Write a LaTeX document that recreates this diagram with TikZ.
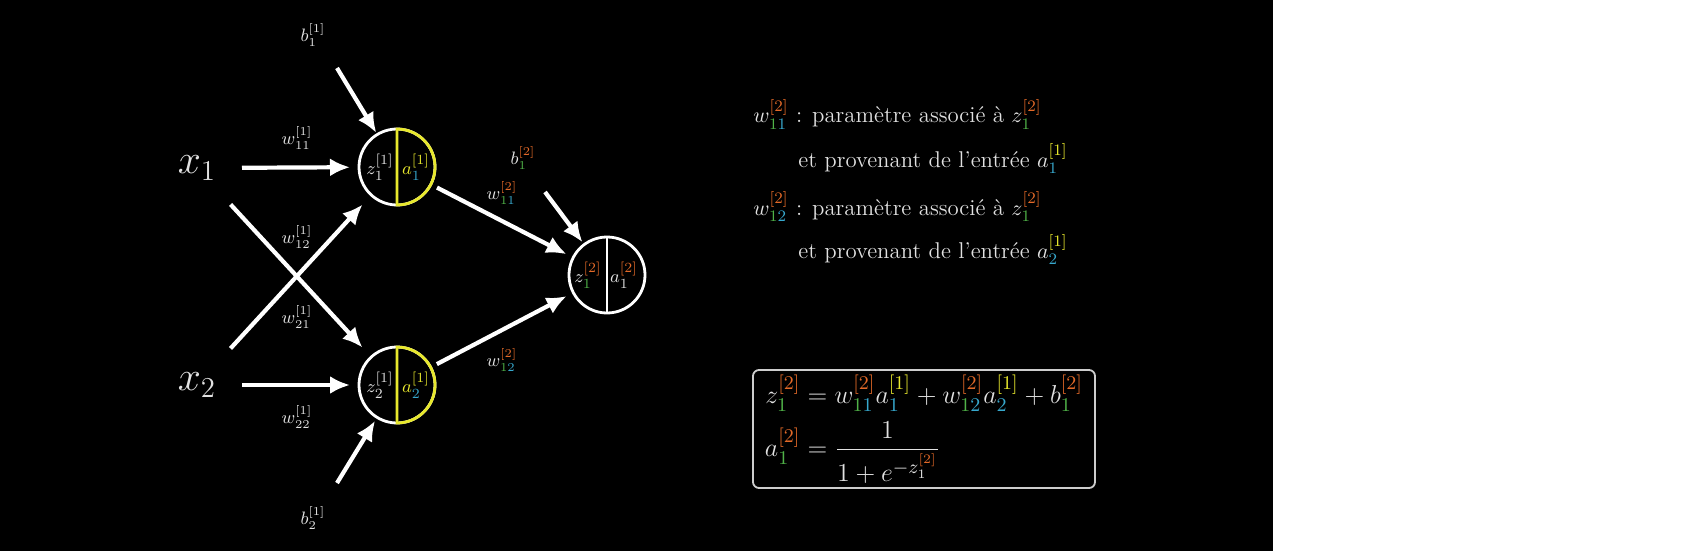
\documentclass[tikz,border=0pt]{standalone}
\usepackage{amsmath,amssymb,graphicx}
\usetikzlibrary{arrows.meta,calc}
\definecolor{txt}{RGB}{225,225,225}
\definecolor{boxc}{RGB}{205,205,205}
\definecolor{orng}{RGB}{226,105,40}
\definecolor{grn}{RGB}{80,178,72}
\definecolor{cyn}{RGB}{55,168,205}
\definecolor{ylw}{RGB}{232,232,45}
\newcommand{\Lo}{{\color{orng}[2]}}
\newcommand{\Ly}{{\color{ylw}[1]}}
\newcommand{\colg}[1]{{\color{grn}#1}}
\newcommand{\colc}[1]{{\color{cyn}#1}}
\tikzset{
  arr/.style={white,line width=2.1pt,-{Latex[length=10pt,width=9pt]}},
  neuron/.style={circle,draw=white,line width=1.4pt,minimum size=38pt,inner sep=0pt,outer sep=0pt},
  innode/.style={circle,minimum size=45pt,inner sep=0pt,outer sep=0pt,text=txt,font=\fontsize{20}{24}\selectfont},
  wlbl/.style={text=txt,font=\fontsize{9}{11}\selectfont,inner sep=1pt},
  clbl/.style={text=txt,font=\fontsize{9.5}{11}\selectfont,inner sep=0pt},
  note/.style={text=txt,font=\fontsize{11.4}{14}\selectfont,anchor=base west,inner sep=0pt},
}
\begin{document}
\begin{tikzpicture}[x=.5pt,y=-.5pt]
            \fill[black] (0,0) rectangle (1273,551);
            \useasboundingbox (0,0) rectangle (1702,551);
            % inputs and neurons
            \node[innode] (x1) at (197,168) {$x_1$};
            \node[innode] (x2) at (197,385) {$x_2$};
            \node[neuron] (n1) at (397,167) {};
            \node[neuron] (n2) at (397,385) {};
            \node[neuron] (o1) at (607,275) {};
            \draw[ylw,line width=1.4pt] (n1.south) arc[start angle=-90,end angle=90,radius=19pt] -- cycle;
            \draw[ylw,line width=1.4pt] (n2.south) arc[start angle=-90,end angle=90,radius=19pt] -- cycle;
            \draw[white,line width=1.4pt] (o1.north) -- (o1.south);
            \node[clbl] (z1) at ([xshift=-8.5pt]n1.center) {$z_1^{[1]}$};
            \node[clbl,text=ylw] (a1) at ([xshift=9.5pt]n1.center) {$a_{\colc{1}}^{[1]}$};
            \node[clbl] (z2) at ([xshift=-8.5pt]n2.center) {$z_2^{[1]}$};
            \node[clbl,text=ylw] (a2) at ([xshift=9.5pt]n2.center) {$a_{\colc{2}}^{[1]}$};
            \node[clbl] (z3) at ([xshift=-9.5pt]o1.center) {$z_{\colg{1}}^{\Lo}$};
            \node[clbl] (a3) at ([xshift=8.5pt]o1.center) {$a_1^{\Lo}$};
            % connectors
            \draw[arr,shorten >=4.5pt] (x1) -- (n1);
            \draw[arr,shorten >=4.5pt] (x2) -- (n2);
            \draw[arr,shorten <=2.3pt,shorten >=6.5pt] (x1) -- (n2);
            \draw[arr,shorten <=2.3pt,shorten >=6.5pt] (x2) -- (n1);
            \draw[arr,shorten <=3.5pt,shorten >=3.8pt] (n1) -- (o1);
            \draw[arr,shorten <=3.5pt,shorten >=3.8pt] (n2) -- (o1);
            \coordinate (b1s) at (337,68);
            \coordinate (b2s) at (337,483);
            \coordinate (b3s) at (545,192);
            \draw[arr,shorten >=1pt] (b1s) -- (n1);
            \draw[arr,shorten >=2pt] (b2s) -- (n2);
            \draw[arr,shorten >=1.5pt] (b3s) -- (o1);
            % labels
            \node[wlbl] (b1) at (313,35) {$b_1^{[1]}$};
            \node[wlbl] (b2) at (313,518) {$b_2^{[1]}$};
            \node[wlbl] (b3) at (523,158) {$b_{\colg{1}}^{\Lo}$};
            \node[wlbl] (w11) at (297,138) {$w_{11}^{[1]}$};
            \node[wlbl] (w12) at (297,237) {$w_{12}^{[1]}$};
            \node[wlbl] (w21) at (297,317) {$w_{21}^{[1]}$};
            \node[wlbl] (w22) at (297,417) {$w_{22}^{[1]}$};
            \node[wlbl] (v11) at (502,193) {$w_{\colg{1}\colc{1}}^{\Lo}$};
            \node[wlbl] (v12) at (502,360) {$w_{\colg{1}\colc{2}}^{\Lo}$};
            % text on the right
            \node[note] (t1) at (753,123) {$w_{\colg{1}\colc{1}}^{\Lo}$ : paramètre associé à $z_{\colg{1}}^{\Lo}$};
            \node[note] (t2) at (798,167) {et provenant de l’entrée $a_{\colc{1}}^{\Ly}$};
            \node[note] (t3) at (753,215) {$w_{\colg{1}\colc{2}}^{\Lo}$ : paramètre associé à $z_{\colg{1}}^{\Lo}$};
            \node[note] (t4) at (798,258) {et provenant de l’entrée $a_{\colc{2}}^{\Ly}$};
            \node[draw=boxc,line width=.9pt,rounded corners=3pt,text=txt,font=\fontsize{13}{16}\selectfont,
                  minimum width=171pt,minimum height=59pt,inner sep=2pt] (eq) at (924,429)
                  {\scalebox{1.08}{$\begin{aligned}
                    z_{\colg{1}}^{\Lo} &= w_{\colg{1}\colc{1}}^{\Lo}a_{\colc{1}}^{\Ly} + w_{\colg{1}\colc{2}}^{\Lo}a_{\colc{2}}^{\Ly} + b_{\colg{1}}^{\Lo}\\
                    a_{\colg{1}}^{\Lo} &= \frac{1}{1+e^{-z_1^{\Lo}}}
                  \end{aligned}$}};
        \end{tikzpicture}
\end{document}
